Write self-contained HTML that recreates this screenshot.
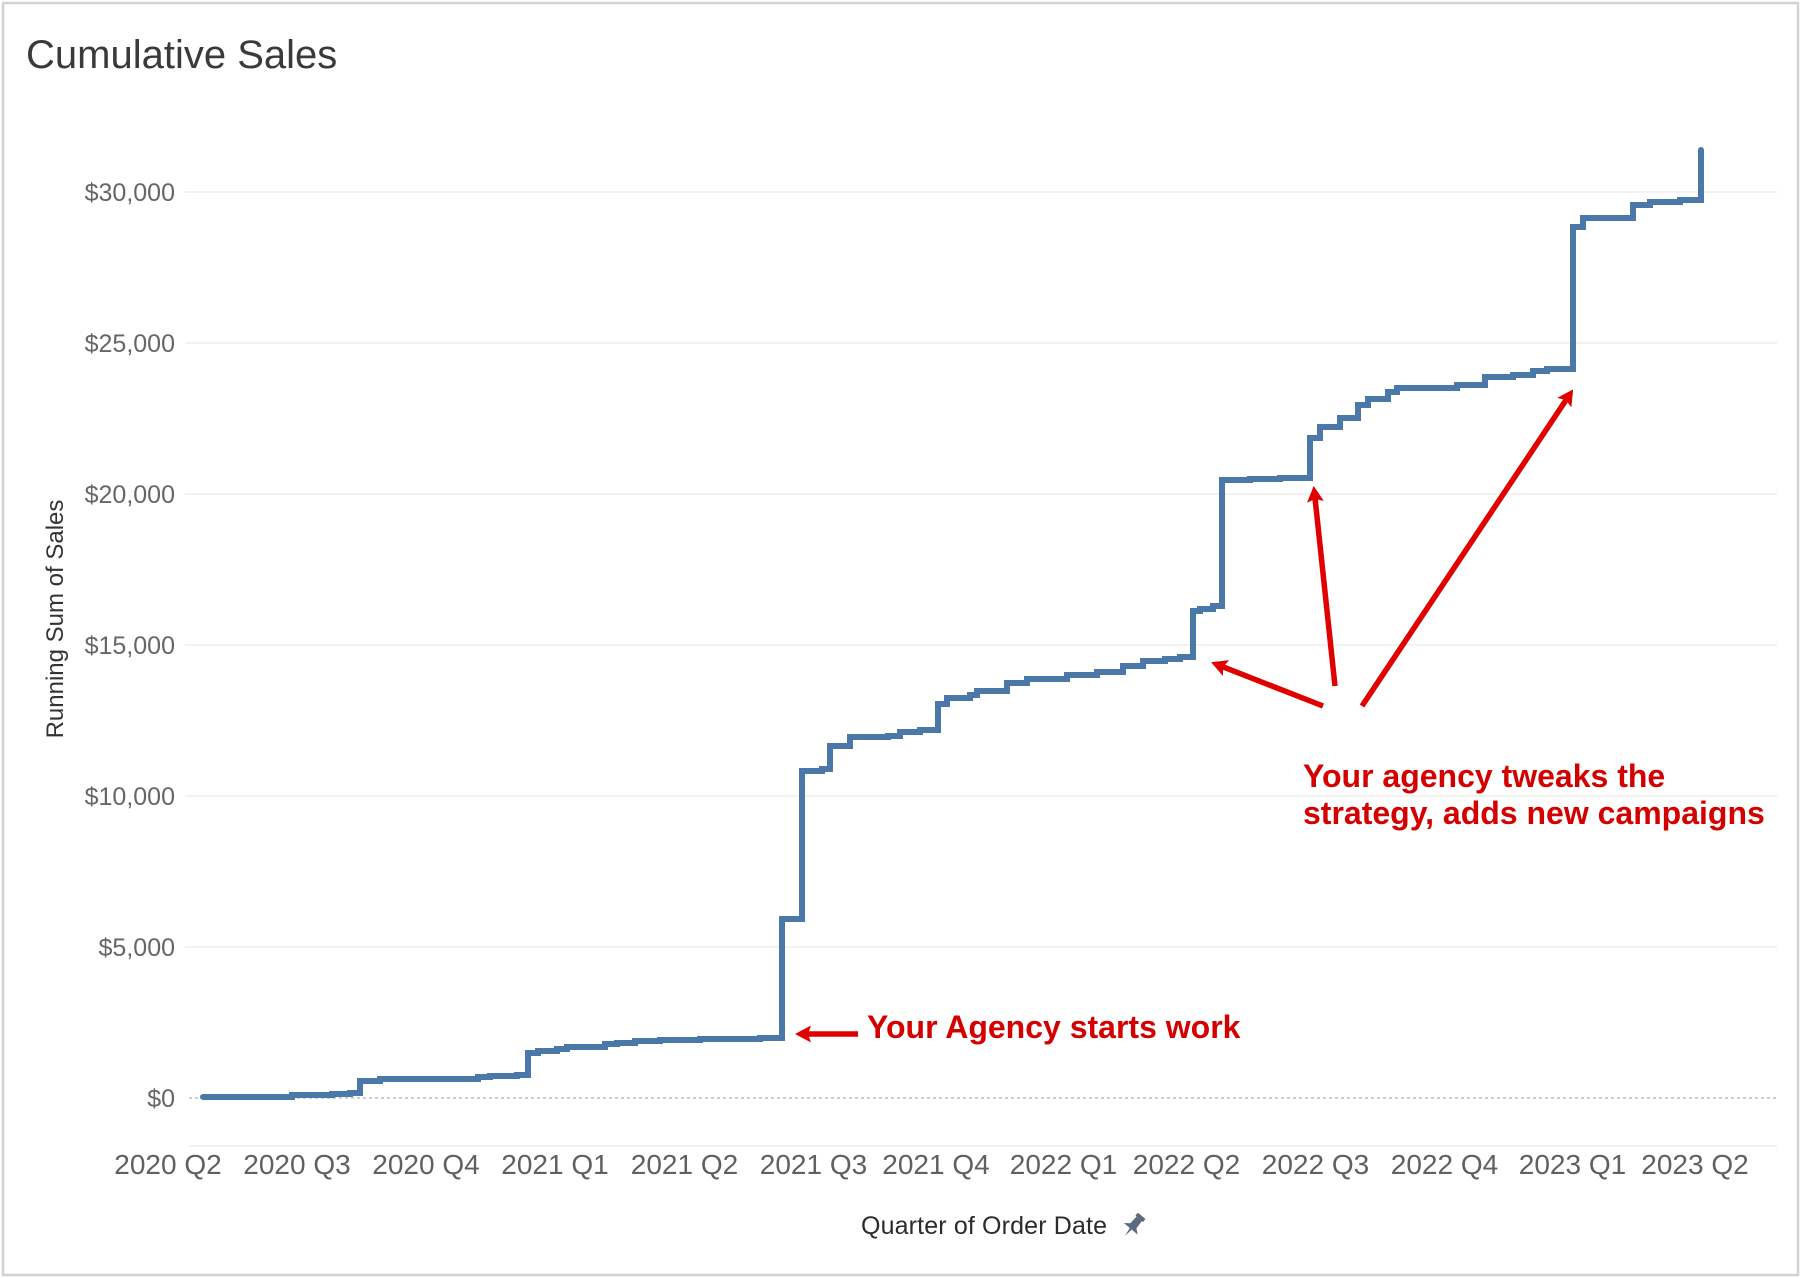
<!DOCTYPE html>
<html>
<head>
<meta charset="utf-8">
<style>
  html, body { margin: 0; padding: 0; background: #ffffff; }
  svg { display: block; }
  text { font-family: "Liberation Sans", Arial, sans-serif; }
</style>
</head>
<body>
<svg width="1802" height="1278" viewBox="0 0 1802 1278" xmlns="http://www.w3.org/2000/svg">
  <defs>
    <marker id="ah" markerUnits="userSpaceOnUse" markerWidth="20" markerHeight="20" refX="4" refY="8.5" orient="auto">
      <path d="M0,0 L16,8.5 L0,17 L3,8.5 z" fill="#e10000"/>
    </marker>
  </defs>

  <rect x="0" y="0" width="1802" height="1278" fill="#ffffff"/>
  <rect x="3" y="3" width="1795" height="1272" fill="none" stroke="#d2d2d2" stroke-width="2.5"/>

  <!-- Title -->
  <text x="26" y="68" font-size="40" fill="#3a3a3a">Cumulative Sales</text>

  <!-- Gridlines -->
  <g stroke="#eeeeee" stroke-width="1.5">
    <line x1="185" y1="192" x2="1777" y2="192"/>
    <line x1="185" y1="343" x2="1777" y2="343"/>
    <line x1="185" y1="494" x2="1777" y2="494"/>
    <line x1="185" y1="645" x2="1777" y2="645"/>
    <line x1="185" y1="796" x2="1777" y2="796"/>
    <line x1="185" y1="947" x2="1777" y2="947"/>
    <line x1="189" y1="1146" x2="1777" y2="1146"/>
  </g>
  <line x1="189" y1="1098" x2="1777" y2="1098" stroke="#bdbdbd" stroke-width="1.5" stroke-dasharray="3,3"/>

  <!-- Y tick labels -->
  <g font-size="25" fill="#666666" text-anchor="end">
    <text x="175" y="201">$30,000</text>
    <text x="175" y="352">$25,000</text>
    <text x="175" y="503">$20,000</text>
    <text x="175" y="654">$15,000</text>
    <text x="175" y="805">$10,000</text>
    <text x="175" y="956">$5,000</text>
    <text x="175" y="1107">$0</text>
  </g>

  <!-- Y axis title -->
  <text transform="translate(63,619) rotate(-90)" text-anchor="middle" font-size="24" fill="#333333">Running Sum of Sales</text>

  <!-- X tick labels -->
  <g font-size="28" fill="#606060" text-anchor="middle">
    <text x="168" y="1174">2020 Q2</text>
    <text x="297" y="1174">2020 Q3</text>
    <text x="426" y="1174">2020 Q4</text>
    <text x="555" y="1174">2021 Q1</text>
    <text x="684.5" y="1174">2021 Q2</text>
    <text x="813.5" y="1174">2021 Q3</text>
    <text x="936" y="1174">2021 Q4</text>
    <text x="1063.5" y="1174">2022 Q1</text>
    <text x="1186.5" y="1174">2022 Q2</text>
    <text x="1315.5" y="1174">2022 Q3</text>
    <text x="1444.5" y="1174">2022 Q4</text>
    <text x="1572.5" y="1174">2023 Q1</text>
    <text x="1695" y="1174">2023 Q2</text>
  </g>

  <!-- X axis title + pin -->
  <text x="861" y="1234" font-size="25" fill="#2b2b2b" textLength="246">Quarter of Order Date</text>
  <g transform="translate(1134,1225) rotate(40)" fill="#5b6a7e">
    <rect x="-5" y="-12" width="10" height="4" rx="1"/>
    <path d="M-3.5,-8 L3.5,-8 L4,1 L9,5 L-9,5 L-4,1 z"/>
    <path d="M-1.3,5 L1.3,5 L0,14 z"/>
  </g>

  <!-- Step line -->
  <path fill="none" stroke="#4a78a9" stroke-width="6" stroke-linecap="round" stroke-linejoin="miter"
    d="M203,1097 H292 V1095 H332 V1094 H350 V1093 H360 V1081 H380 V1079 H478 V1077 H490 V1076 H517 V1075
       H528 V1053 H538 V1051 H557 V1049 H567 V1047 H605 V1044 H617 V1043 H635 V1041 H660 V1040 H700 V1039 H760 V1038
       H782 V919 H802 V771 H822 V769 H830 V746 H850 V737 H888 V736 H900 V732 H920 V730 H938 V704 H947 V698
       H970 V695 H977 V691 H1007 V683 H1027 V679 H1067 V675 H1097 V672 H1123 V666 H1143 V661 H1165 V659 H1180 V657
       H1193 V611 H1200 V609 H1213 V606 H1222 V480 H1250 V479 H1280 V478 H1310 V438 H1320 V427 H1340 V418
       H1358 V405 H1368 V399 H1388 V392 H1397 V388 H1457 V385 H1485 V377 H1513 V375 H1533 V371 H1547 V369
       H1573 V227 H1583 V218 H1633 V205 H1650 V202 H1680 V200 H1701 V150"/>

  <!-- Arrows -->
  <g stroke="#e10000" stroke-width="5.5" fill="none" marker-end="url(#ah)">
    <line x1="858" y1="1034" x2="807" y2="1034"/>
    <line x1="1323" y1="706" x2="1222.3" y2="666.6"/>
    <line x1="1335" y1="686" x2="1315" y2="497.9"/>
    <line x1="1362" y1="706" x2="1566.5" y2="399.3"/>
  </g>

  <!-- Annotations -->
  <g font-size="32" font-weight="bold" fill="#d40000">
    <text x="867" y="1038">Your Agency starts work</text>
    <text x="1303" y="787">Your agency tweaks the</text>
    <text x="1303" y="824">strategy, adds new campaigns</text>
  </g>
</svg>
</body>
</html>
